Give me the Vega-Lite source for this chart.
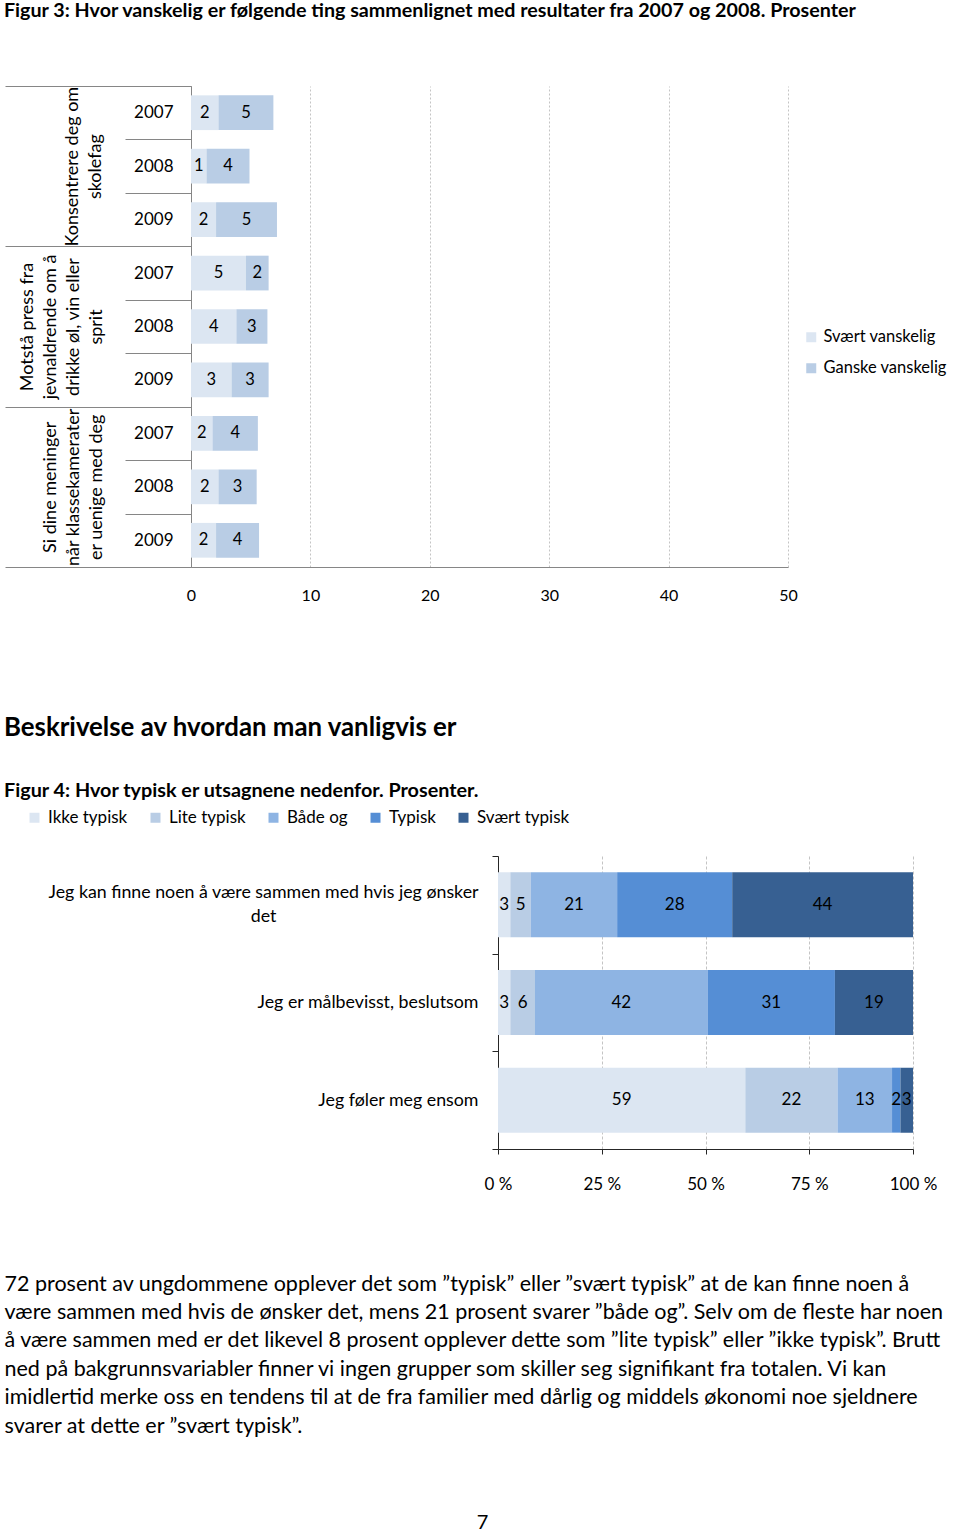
{
  "$schema": "https://vega.github.io/schema/vega-lite/v6.json",
  "background": "white",
  "padding": {"left": 4, "right": 0, "top": 1, "bottom": 0},
  "config": {
    "font": "Lato",
    "view": {"stroke": null},
    "axis": {"labelColor": "#000", "titleColor": "#000"},
    "legend": {"labelColor": "#000"}
  },
  "title": {"text": "7", "orient": "bottom", "anchor": "middle", "dx": 7, "fontSize": 20, "fontWeight": "normal", "color": "#000", "offset": 76},
  "spacing": 112,
  "align": "none",
  "resolve": {"scale": {"color": "independent"}},
  "vconcat": [
    {
      "title": {"text": "Figur 3: Hvor vanskelig er følgende ting sammenlignet med resultater fra 2007 og 2008. Prosenter", "anchor": "start", "frame": "group", "dx": -187, "fontSize": 19.7, "fontWeight": "bold", "color": "#000", "offset": 56},
      "width": 597,
      "height": 481,
      "data": {"values": [
        {"group": "Konsentrere deg om skolefag", "row": "Konsentrere deg om skolefag 2007", "cat": "Svært vanskelig", "k": 1, "value": 2.3},
        {"group": "Konsentrere deg om skolefag", "row": "Konsentrere deg om skolefag 2007", "cat": "Ganske vanskelig", "k": 2, "value": 4.6},
        {"group": "Konsentrere deg om skolefag", "row": "Konsentrere deg om skolefag 2008", "cat": "Svært vanskelig", "k": 1, "value": 1.3},
        {"group": "Konsentrere deg om skolefag", "row": "Konsentrere deg om skolefag 2008", "cat": "Ganske vanskelig", "k": 2, "value": 3.6},
        {"group": "Konsentrere deg om skolefag", "row": "Konsentrere deg om skolefag 2009", "cat": "Svært vanskelig", "k": 1, "value": 2.1},
        {"group": "Konsentrere deg om skolefag", "row": "Konsentrere deg om skolefag 2009", "cat": "Ganske vanskelig", "k": 2, "value": 5.1},
        {"group": "Motstå press fra jevnaldrende om å drikke øl, vin eller sprit", "row": "Motstå press fra jevnaldrende om å drikke øl, vin eller sprit 2007", "cat": "Svært vanskelig", "k": 1, "value": 4.6},
        {"group": "Motstå press fra jevnaldrende om å drikke øl, vin eller sprit", "row": "Motstå press fra jevnaldrende om å drikke øl, vin eller sprit 2007", "cat": "Ganske vanskelig", "k": 2, "value": 1.9},
        {"group": "Motstå press fra jevnaldrende om å drikke øl, vin eller sprit", "row": "Motstå press fra jevnaldrende om å drikke øl, vin eller sprit 2008", "cat": "Svært vanskelig", "k": 1, "value": 3.8},
        {"group": "Motstå press fra jevnaldrende om å drikke øl, vin eller sprit", "row": "Motstå press fra jevnaldrende om å drikke øl, vin eller sprit 2008", "cat": "Ganske vanskelig", "k": 2, "value": 2.6},
        {"group": "Motstå press fra jevnaldrende om å drikke øl, vin eller sprit", "row": "Motstå press fra jevnaldrende om å drikke øl, vin eller sprit 2009", "cat": "Svært vanskelig", "k": 1, "value": 3.4},
        {"group": "Motstå press fra jevnaldrende om å drikke øl, vin eller sprit", "row": "Motstå press fra jevnaldrende om å drikke øl, vin eller sprit 2009", "cat": "Ganske vanskelig", "k": 2, "value": 3.1},
        {"group": "Si dine meninger når klassekamerater er uenige med deg", "row": "Si dine meninger når klassekamerater er uenige med deg 2007", "cat": "Svært vanskelig", "k": 1, "value": 1.8},
        {"group": "Si dine meninger når klassekamerater er uenige med deg", "row": "Si dine meninger når klassekamerater er uenige med deg 2007", "cat": "Ganske vanskelig", "k": 2, "value": 3.8},
        {"group": "Si dine meninger når klassekamerater er uenige med deg", "row": "Si dine meninger når klassekamerater er uenige med deg 2008", "cat": "Svært vanskelig", "k": 1, "value": 2.3},
        {"group": "Si dine meninger når klassekamerater er uenige med deg", "row": "Si dine meninger når klassekamerater er uenige med deg 2008", "cat": "Ganske vanskelig", "k": 2, "value": 3.2},
        {"group": "Si dine meninger når klassekamerater er uenige med deg", "row": "Si dine meninger når klassekamerater er uenige med deg 2009", "cat": "Svært vanskelig", "k": 1, "value": 2.1},
        {"group": "Si dine meninger når klassekamerater er uenige med deg", "row": "Si dine meninger når klassekamerater er uenige med deg 2009", "cat": "Ganske vanskelig", "k": 2, "value": 3.6}
      ]},
      "layer": [
        {
          "layer": [
            {
              "mark": {"type": "bar", "height": {"band": 0.65}},
              "encoding": {
                "y": {"field": "row", "type": "nominal", "scale": {"type": "band", "paddingInner": 0, "paddingOuter": 0},
                  "axis": {"title": null, "labelExpr": "slice(datum.label, -4)", "domainColor": "#868686", "tickColor": "#868686", "tickSize": 66, "tickBand": "extent", "labelPadding": -48, "labelFontSize": 17, "labelAlign": "right", "labelBaseline": "middle"}},
                "x": {"field": "value", "type": "quantitative", "stack": "zero", "scale": {"domain": [0, 50], "nice": false},
                  "axis": {"title": null, "values": [0, 10, 20, 30, 40, 50], "domainColor": "#868686", "ticks": false, "grid": true, "gridDash": [2, 2], "gridColor": "#c4c4c4", "labelPadding": 20, "labelFontSize": 16, "labelFlush": false}},
                "color": {"field": "cat", "type": "nominal", "scale": {"domain": ["Svært vanskelig", "Ganske vanskelig"], "range": ["#dce6f2", "#b9cde5"]},
                  "legend": {"orient": "none", "legendX": 612, "legendY": 243, "title": null, "symbolType": "square", "symbolSize": 100, "symbolStrokeWidth": 0, "labelFontSize": 16.5, "rowPadding": 14, "labelOffset": 4}},
                "order": {"field": "k", "type": "quantitative"}
              }
            },
            {
              "mark": {"type": "text", "fontSize": 16.5, "color": "#000"},
              "encoding": {
                "y": {"field": "row", "type": "nominal"},
                "x": {"field": "value", "type": "quantitative", "stack": "zero", "bandPosition": 0.5},
                "detail": {"field": "cat"},
                "order": {"field": "k", "type": "quantitative"},
                "text": {"field": "value", "type": "quantitative", "format": ".0f"}
              }
            }
          ]
        },
        {
          "mark": {"type": "point", "opacity": 0},
          "encoding": {
            "y": {"field": "group", "type": "nominal", "scale": {"type": "band", "paddingInner": 0, "paddingOuter": 0},
              "axis": {"orient": "left", "title": null, "domain": false, "tickSize": 186, "tickBand": "extent", "tickColor": "#868686", "labelAngle": 270, "labelAlign": "center", "labelBaseline": "bottom", "labelFontSize": 18, "labelLineHeight": 23, "labelOverlap": false, "labelBound": false, "labelLimit": 1000,
                "labelPadding": {"condition": [{"test": "datum.value == 'Motstå press fra jevnaldrende om å drikke øl, vin eller sprit'", "value": -31}, {"test": "datum.value == 'Si dine meninger når klassekamerater er uenige med deg'", "value": -54}], "value": -76},
                "labelExpr": "datum.label == 'Konsentrere deg om skolefag' ? ['Konsentrere deg om', 'skolefag'] : datum.label == 'Si dine meninger når klassekamerater er uenige med deg' ? ['Si dine meninger', 'når klassekamerater', 'er uenige med deg'] : datum.label == 'Motstå press fra jevnaldrende om å drikke øl, vin eller sprit' ? ['Motstå press fra', 'jevnaldrende om å', 'drikke øl, vin eller', 'sprit'] : ''"}},
            "x": {"field": "value", "type": "quantitative"}
          }
        }
      ],
      "resolve": {"scale": {"y": "independent"}}
    },
    {
      "title": {"text": "Beskrivelse av hvordan man vanligvis er", "subtitle": "Figur 4: Hvor typisk er utsagnene nedenfor. Prosenter.", "anchor": "start", "frame": "group", "dx": -187, "fontSize": 25.8, "fontWeight": "bold", "color": "#000", "subtitleFontSize": 19.8, "subtitleFontWeight": "bold", "subtitleColor": "#000", "subtitlePadding": 39, "offset": 7},
      "width": 722,
      "height": 293,
      "data": {"values": [
        {"stmt": "Jeg kan finne noen å være sammen med hvis jeg ønsker det", "cat": "Ikke typisk", "k": 1, "value": 3},
        {"stmt": "Jeg kan finne noen å være sammen med hvis jeg ønsker det", "cat": "Lite typisk", "k": 2, "value": 5},
        {"stmt": "Jeg kan finne noen å være sammen med hvis jeg ønsker det", "cat": "Både og", "k": 3, "value": 21},
        {"stmt": "Jeg kan finne noen å være sammen med hvis jeg ønsker det", "cat": "Typisk", "k": 4, "value": 28},
        {"stmt": "Jeg kan finne noen å være sammen med hvis jeg ønsker det", "cat": "Svært typisk", "k": 5, "value": 44},
        {"stmt": "Jeg er målbevisst, beslutsom", "cat": "Ikke typisk", "k": 1, "value": 3},
        {"stmt": "Jeg er målbevisst, beslutsom", "cat": "Lite typisk", "k": 2, "value": 6},
        {"stmt": "Jeg er målbevisst, beslutsom", "cat": "Både og", "k": 3, "value": 42},
        {"stmt": "Jeg er målbevisst, beslutsom", "cat": "Typisk", "k": 4, "value": 31},
        {"stmt": "Jeg er målbevisst, beslutsom", "cat": "Svært typisk", "k": 5, "value": 19},
        {"stmt": "Jeg føler meg ensom", "cat": "Ikke typisk", "k": 1, "value": 59},
        {"stmt": "Jeg føler meg ensom", "cat": "Lite typisk", "k": 2, "value": 22},
        {"stmt": "Jeg føler meg ensom", "cat": "Både og", "k": 3, "value": 13},
        {"stmt": "Jeg føler meg ensom", "cat": "Typisk", "k": 4, "value": 2},
        {"stmt": "Jeg føler meg ensom", "cat": "Svært typisk", "k": 5, "value": 3}
      ]},
      "layer": [
        {
          "mark": {"type": "bar", "height": {"band": 0.665}},
          "encoding": {
            "y": {"field": "stmt", "type": "nominal", "sort": ["Jeg kan finne noen å være sammen med hvis jeg ønsker det", "Jeg er målbevisst, beslutsom", "Jeg føler meg ensom"], "scale": {"type": "band", "paddingInner": 0, "paddingOuter": 0},
              "axis": {"title": null, "offset": -307, "domainColor": "#262626", "tickColor": "#262626", "tickSize": 6, "tickBand": "extent", "labelFontSize": 17.8, "labelLimit": 700, "labelLineHeight": 24,
                "labelExpr": "datum.label == 'Jeg kan finne noen å være sammen med hvis jeg ønsker det' ? ['Jeg kan finne noen å være sammen med hvis jeg ønsker', 'det'] : datum.label",
                "labelAlign": {"condition": {"test": "datum.value == 'Jeg kan finne noen å være sammen med hvis jeg ønsker det'", "value": "center"}, "value": "right"},
                "labelOffset": {"condition": {"test": "datum.value == 'Jeg kan finne noen å være sammen med hvis jeg ønsker det'", "value": -12}, "value": 0},
                "labelPadding": {"condition": {"test": "datum.value == 'Jeg kan finne noen å være sammen med hvis jeg ønsker det'", "value": 229}, "value": 14}}},
            "x": {"field": "value", "type": "quantitative", "stack": "normalize", "scale": {"range": [307, 722]},
              "axis": {"values": [0, 0.25, 0.5, 0.75, 1], "labelExpr": "round(datum.value*100) + ' %'", "labelFlush": false, "domain": true, "domainColor": "#262626", "domainWidth": 1, "ticks": true, "tickSize": 5, "tickColor": "#262626", "grid": true, "gridDash": [3, 2], "gridColor": "#c4c4c4", "labelPadding": 22, "labelFontSize": 17,
                "title": ["72 prosent av ungdommene opplever det som ”typisk” eller ”svært typisk” at de kan finne noen å", "være sammen med hvis de ønsker det, mens 21 prosent svarer ”både og”. Selv om de fleste har noen", "å være sammen med er det likevel 8 prosent opplever dette som ”lite typisk” eller ”ikke typisk”. Brutt", "ned på bakgrunnsvariabler finner vi ingen grupper som skiller seg signifikant fra totalen. Vi kan", "imidlertid merke oss en tendens til at de fra familier med dårlig og middels økonomi noe sjeldnere", "svarer at dette er ”svært typisk”."],
                "titleAnchor": "start", "titleAlign": "left", "titleX": -187, "titleBaseline": "top", "titleFontSize": 21.5, "titleFontWeight": "normal", "titleLineHeight": 28.4, "titlePadding": 81, "titleLimit": 2000}},
            "color": {"field": "cat", "type": "nominal", "scale": {"domain": ["Ikke typisk", "Lite typisk", "Både og", "Typisk", "Svært typisk"], "range": ["#dce6f2", "#b9cde5", "#8eb4e3", "#558ed5", "#376092"]},
              "legend": {"orient": "none", "direction": "horizontal", "legendX": -165, "legendY": -47, "title": null, "symbolType": "square", "symbolSize": 100, "symbolStrokeWidth": 0, "labelFontSize": 17, "columnPadding": 19, "labelOffset": 5}},
            "order": {"field": "k", "type": "quantitative"}
          }
        },
        {
          "mark": {"type": "text", "fontSize": 17, "color": "#000"},
          "encoding": {
            "y": {"field": "stmt", "type": "nominal", "sort": ["Jeg kan finne noen å være sammen med hvis jeg ønsker det", "Jeg er målbevisst, beslutsom", "Jeg føler meg ensom"]},
            "x": {"field": "value", "type": "quantitative", "stack": "normalize", "bandPosition": 0.5},
            "detail": {"field": "cat"},
            "order": {"field": "k", "type": "quantitative"},
            "text": {"field": "value", "type": "quantitative"}
          }
        }
      ]
    }
  ]
}
